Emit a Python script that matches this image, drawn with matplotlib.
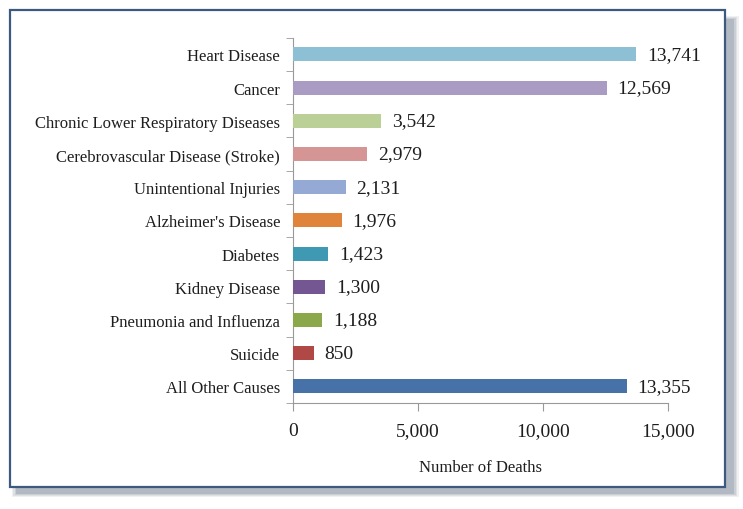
import matplotlib
matplotlib.use("Agg")
import matplotlib.pyplot as plt
from matplotlib.patches import Rectangle

# ----------------------------------------
# Data
# ----------------------------------------
causes = [
    "Heart Disease",
    "Cancer",
    "Chronic Lower Respiratory Diseases",
    "Cerebrovascular Disease (Stroke)",
    "Unintentional Injuries",
    "Alzheimer's Disease",
    "Diabetes",
    "Kidney Disease",
    "Pneumonia and Influenza",
    "Suicide",
    "All Other Causes",
]
deaths = [13741, 12569, 3542, 2979, 2131, 1976, 1423, 1300, 1188, 850, 13355]
colors = ["#8dc0d4", "#a99bc1", "#bbd096", "#d59594", "#94a9d4", "#e0843b",
          "#4099b2", "#735692", "#8ba94b", "#b04846", "#4672a8"]
x_ticks = [0, 5000, 10000, 15000]

plt.rcParams["font.family"] = ["Liberation Serif", "DejaVu Serif"]

fig = plt.figure(figsize=(7.43, 5.10), dpi=100)

# soft shadow behind the frame
for k, a in enumerate([0.12, 0.15, 0.2, 0.3]):
    d = (3 - k) * 0.002
    fig.patches.append(Rectangle((0.022 - d, 0.030 - d), 0.966 + 2 * d, 0.930 + 2 * d,
                                 transform=fig.transFigure, facecolor="#7d8a99",
                                 edgecolor="none", alpha=a, zorder=0))
# frame
fig.patches.append(Rectangle((0.014, 0.043), 0.962, 0.936, transform=fig.transFigure,
                             facecolor="white", edgecolor="#3b5a7e", linewidth=1.6, zorder=1))

ax = fig.add_axes([0.394, 0.208, 0.505, 0.716])
ax.set_zorder(2)

y = list(range(len(causes)))
ax.barh(y, deaths, height=0.42, color=colors, zorder=3)
for yi, v in zip(y, deaths):
    ax.text(v + 420, yi, f"{v:,}", va="center", ha="left", fontsize=14, color="#1e1e1e")

ax.set_ylim(len(causes) - 0.5, -0.5)
ax.set_xlim(0, 15000)
ax.set_yticks(y)
ax.set_yticklabels(causes, fontsize=12, color="#1e1e1e")
ax.set_yticks([i - 0.5 for i in range(len(causes) + 1)], minor=True)
ax.tick_params(axis="y", which="major", length=0, pad=9)
ax.tick_params(axis="y", which="minor", length=5, color="#999999")
ax.set_xticks(x_ticks)
ax.set_xticklabels([f"{t:,}" for t in x_ticks], fontsize=14, color="#1e1e1e")
ax.tick_params(axis="x", length=6, color="#999999", pad=8)
ax.set_xlabel("Number of Deaths", fontsize=12, color="#1e1e1e", labelpad=14)

for s in ["top", "right"]:
    ax.spines[s].set_visible(False)
ax.spines["left"].set_color("#999999")
ax.spines["bottom"].set_color("#999999")

fig.savefig("out.png", dpi=100)
